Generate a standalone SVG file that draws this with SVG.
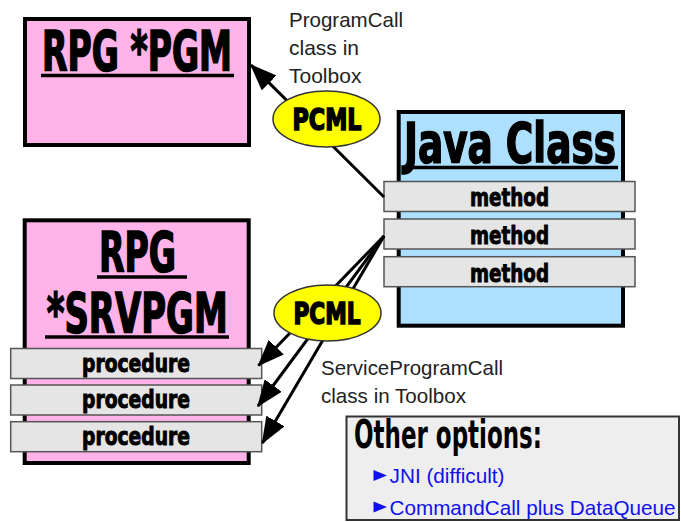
<svg xmlns="http://www.w3.org/2000/svg" width="681" height="522" viewBox="0 0 681 522">
<style>
.box{stroke:#000;stroke-width:4}
.pink{fill:#FFB3E8}
.blue{fill:#ADDFFF}
.bar{fill:#E5E5E5;stroke:#555;stroke-width:1.5}
.heavy{font-family:"Liberation Sans Narrow","DejaVu Sans Condensed","DejaVu Sans",sans-serif;font-weight:bold;fill:#000;stroke:#000;stroke-width:1.6}
.title{font-size:56px}
.barText{font-size:25px;stroke-width:0.9;text-anchor:start}
.pcml{font-size:31px}
.label{font-family:"Liberation Sans",Arial,sans-serif;font-size:21px;fill:#222}
.opt{font-family:"Liberation Sans",Arial,sans-serif;font-size:21px;fill:#1010EE}
.ul{stroke:#000;stroke-width:3.5}
.conn{stroke:#000;stroke-width:3;fill:none}
.ell{fill:#FFFF00;stroke:#333;stroke-width:1.5}
</style>
<defs>
<marker id="arrow" markerWidth="9" markerHeight="7" refX="8.5" refY="3.5" orient="auto" markerUnits="strokeWidth">
<path d="M0,0 L9,3.5 L0,7 z" fill="#000"/>
</marker>
</defs>

<g id="rpg-pgm">
<rect class="box pink" x="25" y="19" width="224" height="126"/>
<text class="heavy title" x="42" y="70" textLength="190" lengthAdjust="spacingAndGlyphs">RPG *PGM</text>
<line class="ul" x1="41" y1="75.5" x2="234" y2="75.5"/>
</g>

<g id="java-class">
<rect class="box blue" x="398.7" y="112" width="224.3" height="213.7"/>
<text class="heavy title" x="404" y="162" textLength="212" lengthAdjust="spacingAndGlyphs">Java Class</text>
<line class="ul" x1="404" y1="167.5" x2="618" y2="167.5"/>
</g>

<g id="method-1">
<rect class="bar" x="384" y="181.5" width="251" height="30"/>
<text class="heavy barText" x="470" y="206" textLength="79" lengthAdjust="spacingAndGlyphs">method</text>
</g>
<g id="method-2">
<rect class="bar" x="384" y="219" width="251" height="30"/>
<text class="heavy barText" x="470" y="244" textLength="79" lengthAdjust="spacingAndGlyphs">method</text>
</g>
<g id="method-3">
<rect class="bar" x="384" y="256.7" width="251" height="30"/>
<text class="heavy barText" x="470" y="281.5" textLength="79" lengthAdjust="spacingAndGlyphs">method</text>
</g>

<g id="rpg-srvpgm">
<rect class="box pink" x="24.7" y="220.3" width="224" height="242.7"/>
<text class="heavy title" x="99" y="271" textLength="77" lengthAdjust="spacingAndGlyphs">RPG</text>
<line class="ul" x1="97" y1="277" x2="187" y2="277"/>
<text class="heavy title" x="46.7" y="332" textLength="181" lengthAdjust="spacingAndGlyphs">*SRVPGM</text>
<line class="ul" x1="45" y1="337" x2="229" y2="337"/>
</g>

<g id="procedure-1">
<rect class="bar" x="10.7" y="348.5" width="251" height="30"/>
<text class="heavy barText" x="82" y="371.5" textLength="108" lengthAdjust="spacingAndGlyphs">procedure</text>
</g>
<g id="procedure-2">
<rect class="bar" x="10.7" y="385" width="251" height="30"/>
<text class="heavy barText" x="82" y="408" textLength="108" lengthAdjust="spacingAndGlyphs">procedure</text>
</g>
<g id="procedure-3">
<rect class="bar" x="10.7" y="421.7" width="251" height="30"/>
<text class="heavy barText" x="82" y="444.7" textLength="108" lengthAdjust="spacingAndGlyphs">procedure</text>
</g>

<g id="connectors">
<line class="conn" x1="384" y1="197" x2="251" y2="65" marker-end="url(#arrow)"/>
<line class="conn" x1="384" y1="236" x2="258.5" y2="365.5" marker-end="url(#arrow)"/>
<line class="conn" x1="384" y1="236" x2="258" y2="406" marker-end="url(#arrow)"/>
<line class="conn" x1="384" y1="236" x2="262.5" y2="443" marker-end="url(#arrow)"/>
</g>

<g id="pcml-top">
<ellipse class="ell" cx="326.5" cy="119" rx="53.5" ry="28"/>
<text class="heavy pcml" x="292.5" y="130" textLength="69" lengthAdjust="spacingAndGlyphs">PCML</text>
</g>
<g id="pcml-bottom">
<ellipse class="ell" cx="327.5" cy="313" rx="53.5" ry="28"/>
<text class="heavy pcml" x="293.5" y="324" textLength="67" lengthAdjust="spacingAndGlyphs">PCML</text>
</g>

<g id="programcall-label">
<text class="label" x="289" y="27" textLength="114" lengthAdjust="spacingAndGlyphs">ProgramCall</text>
<text class="label" x="289" y="55">class in</text>
<text class="label" x="289" y="83">Toolbox</text>
</g>

<g id="serviceprogramcall-label">
<text class="label" x="321" y="375" textLength="182" lengthAdjust="spacingAndGlyphs">ServiceProgramCall</text>
<text class="label" x="321" y="403" textLength="145" lengthAdjust="spacingAndGlyphs">class in Toolbox</text>
</g>

<g id="other-options">
<rect x="346.5" y="416.5" width="332.5" height="103.5" fill="#EEEEEE" stroke="#333" stroke-width="2"/>
<text class="heavy" x="354" y="448" font-size="39" style="stroke:none" textLength="188" lengthAdjust="spacingAndGlyphs">Other options:</text>
<path d="M373.5,470 L387,475.5 L373.5,481 z" fill="#1010EE"/>
<text class="opt" x="389.5" y="483.3" textLength="115" lengthAdjust="spacingAndGlyphs">JNI (difficult)</text>
<path d="M373.5,501.5 L387,507 L373.5,512.5 z" fill="#1010EE"/>
<text class="opt" x="389.5" y="515" textLength="286" lengthAdjust="spacingAndGlyphs">CommandCall plus DataQueue</text>
</g>
</svg>
